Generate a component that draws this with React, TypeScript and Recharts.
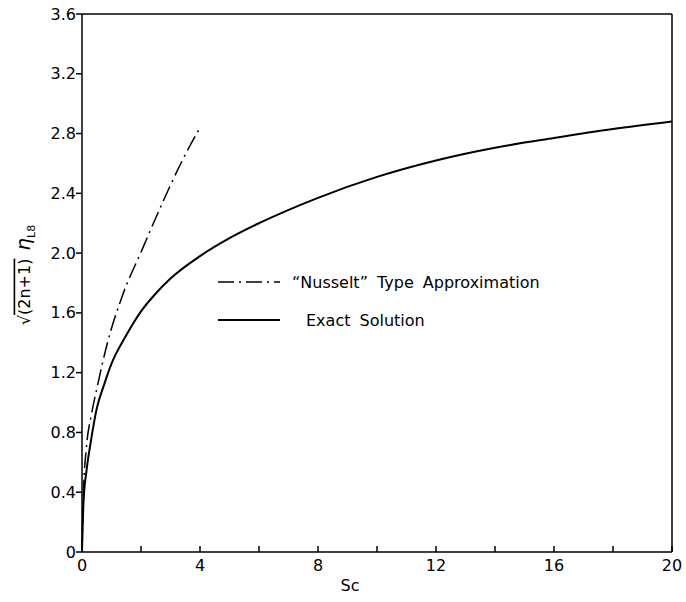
import { LineChart, Line, XAxis, YAxis, ReferenceLine, Legend } from 'recharts'

document.body.style.margin = '0'

const FONT = '"DejaVu Sans", sans-serif'

// exact solution
const exactSc = [0, 0.05, 0.15, 0.3, 0.5, 0.75, 1, 1.5, 2, 2.5, 3, 4, 5, 6, 8, 10, 12, 14, 16, 18, 20]
const exactVal = [0, 0.33, 0.54, 0.74, 0.96, 1.12, 1.26, 1.45, 1.61, 1.73, 1.83, 1.98, 2.1, 2.2, 2.37, 2.51, 2.62, 2.705, 2.77, 2.83, 2.88]

// "Nusselt" type approximation
const nuSc = [0, 0.05, 0.15, 0.32, 0.51, 0.85, 1.36, 2.03, 2.6, 3.4, 4.03]
const nuVal = [0, 0.4, 0.7, 0.92, 1.1, 1.39, 1.71, 2.02, 2.28, 2.62, 2.85]

const xTicks = [0, 2, 4, 6, 8, 10, 12, 14, 16, 18, 20]
const yTicks = [0, 0.4, 0.8, 1.2, 1.6, 2.0, 2.4, 2.8, 3.2, 3.6]

const NU_NAME = '“Nusselt” Type Approximation'
const EXACT_NAME = 'Exact Solution'
const legendOrder = [NU_NAME, EXACT_NAME]

const exactData = exactSc.map((sc, i) => ({ sc, v: exactVal[i] }))
const nuData = nuSc.map((sc, i) => ({ sc, v: nuVal[i] }))

const XTick = ({ x, y, payload }: any) => (
  <g>
    <line x1={x} x2={x} y1={y} y2={y - 6} stroke="#000" strokeWidth={1.5} />
    {payload.value % 4 === 0 && (
      <text x={x} y={y + 19} textAnchor="middle" fontFamily={FONT} fontSize={16} fill="#000">
        {payload.value}
      </text>
    )}
  </g>
)

const YTick = ({ x, y, payload }: any) => (
  <g>
    <line x1={x - 6} x2={x} y1={y} y2={y} stroke="#000" strokeWidth={1.5} />
    <text x={x - 6} y={y} dy="0.35em" textAnchor="end" fontFamily={FONT} fontSize={16} fill="#000">
      {payload.value === 0 ? '0' : payload.value.toFixed(1)}
    </text>
  </g>
)

const YTitle = () => (
  <g transform="translate(24,275) rotate(-90)">
    <text x={0} y={0} dy="0.35em" textAnchor="middle" fontFamily={FONT} fontSize={16} fill="#000">
      √<tspan style={{ textDecoration: 'overline' }}>(2n+1)</tspan>
      <tspan dx={8} fontSize={20} fontStyle="italic">η</tspan>
      <tspan fontSize={11} dy={5}>L8</tspan>
    </text>
  </g>
)

const XTitle = () => (
  <text x={350} y={591} textAnchor="middle" fontFamily={FONT} fontSize={16} fill="#000">Sc</text>
)

const LegendBox = ({ payload }: any) => {
  const items = [...(payload || [])].sort(
    (a: any, b: any) => legendOrder.indexOf(a.value) - legendOrder.indexOf(b.value))
  return (
    <div style={{ fontFamily: FONT, fontSize: 16, color: '#000' }}>
      {items.map((p: any, i: number) => (
        <div key={p.value} style={{ display: 'flex', alignItems: 'center', height: 38 }}>
          <svg width={62} height={8}>
            <line x1={0} x2={62} y1={4} y2={4} stroke="#000"
              strokeWidth={i === 0 ? 1.3 : 2}
              strokeDasharray={i === 0 ? '16 5 2 5' : undefined} />
          </svg>
          <span style={{ marginLeft: i === 0 ? 12 : 26, wordSpacing: 4, whiteSpace: 'nowrap' }}>{p.value}</span>
        </div>
      ))}
    </div>
  )
}

export default function App() {
  return (
    <LineChart width={686} height={602} margin={{ top: 14, right: 14, bottom: 0, left: 22 }}>
      <XAxis type="number" dataKey="sc" domain={[0, 20]} ticks={xTicks} interval={0}
        height={50} tickSize={0} tickMargin={0} tick={<XTick />}
        axisLine={{ stroke: '#000', strokeWidth: 1.5 }} label={<XTitle />} />
      <YAxis type="number" dataKey="v" domain={[0, 3.6]} ticks={yTicks} interval={0}
        width={60} tickSize={0} tickMargin={0} tick={<YTick />}
        axisLine={{ stroke: '#000', strokeWidth: 1.5 }} label={<YTitle />} />
      <ReferenceLine y={3.6} stroke="#000" strokeWidth={1.5} />
      <ReferenceLine x={20} stroke="#000" strokeWidth={1.5} />
      <Line data={nuData} dataKey="v" name={NU_NAME} type="monotone"
        stroke="#000" strokeWidth={1.5} strokeDasharray="16 5 2 5" dot={false} isAnimationActive={false} />
      <Line data={exactData} dataKey="v" name={EXACT_NAME} type="monotone"
        stroke="#000" strokeWidth={2} dot={false} isAnimationActive={false} />
      <Legend layout="vertical" align="center" verticalAlign="middle" content={<LegendBox />}
        wrapperStyle={{ left: 218, top: 263, width: 'auto', height: 'auto' }} />
    </LineChart>
  )
}
